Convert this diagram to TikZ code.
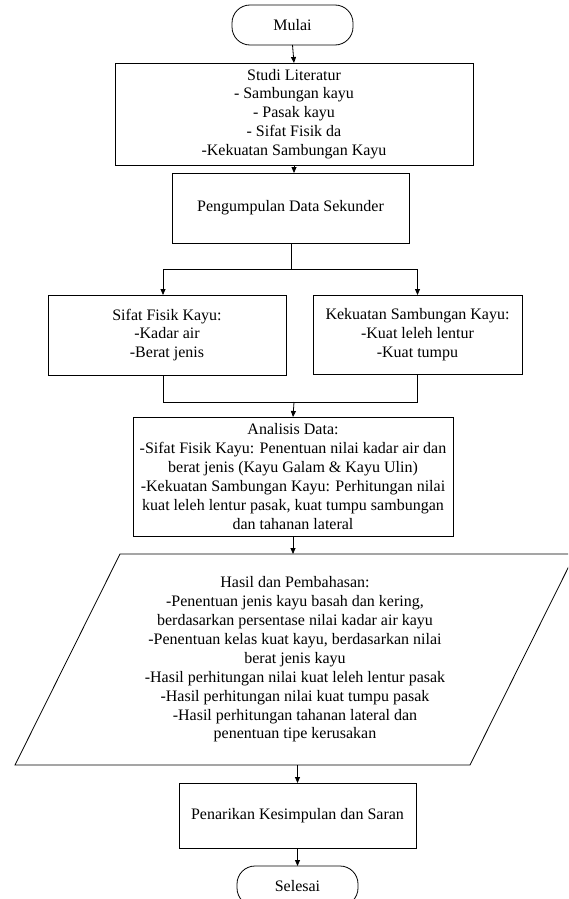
\documentclass[tikz,border=0pt]{standalone}
\usepackage{fontspec}
\setmainfont{Liberation Serif}
\usetikzlibrary{arrows.meta}
\begin{document}
\begin{tikzpicture}[x=1pt,y=-1pt,
  every node/.style={font=\fontsize{16}{18.9}\selectfont, align=center, inner sep=0pt, outer sep=0pt},
  procbox/.style={draw, line width=0.8pt, rectangle},
  termbox/.style={draw, line width=0.8pt, rectangle, rounded corners=18pt, minimum width=121pt, minimum height=40pt},
  conn/.style={line width=0.8pt},
  arr/.style={line width=0.8pt, -{Triangle[length=6pt,width=5pt]}}]
\useasboundingbox (0,0) rectangle (568,899);
\clip (0,0) rectangle (568,899);

\node[termbox] (mulai) at (292.5,25) {Mulai};
\node[procbox, minimum width=358pt, minimum height=102pt] (studi) at (294,114)
  {Studi Literatur\\- Sambungan kayu\\- Pasak kayu\\- Sifat Fisik da\\-Kekuatan Sambungan Kayu};
\node[procbox, minimum width=237pt, minimum height=70pt] (peng) at (290.5,208) {Pengumpulan Data Sekunder};
\node[procbox, minimum width=238pt, minimum height=80pt] (sifat) at (167,335)
  {Sifat Fisik Kayu:\\-Kadar air\\-Berat jenis};
\node[procbox, minimum width=209pt, minimum height=79pt] (kuat) at (417.5,334.5)
  {Kekuatan Sambungan Kayu:\\-Kuat leleh lentur\\-Kuat tumpu};
\node[procbox, minimum width=320pt, minimum height=119pt] (anal) at (293,476.5)
  {Analisis Data:\\-Sifat Fisik Kayu: Penentuan nilai kadar air dan\\berat jenis (Kayu Galam \& Kayu Ulin)\\-Kekuatan Sambungan Kayu: Perhitungan nilai\\kuat leleh lentur pasak, kuat tumpu sambungan\\dan tahanan lateral};
\node (hasil) at (295,659.5)
  {Hasil dan Pembahasan:\\-Penentuan jenis kayu basah dan kering,\\berdasarkan persentase nilai kadar air kayu\\-Penentuan kelas kuat kayu, berdasarkan nilai\\berat jenis kayu\\-Hasil perhitungan nilai kuat leleh lentur pasak\\-Hasil perhitungan nilai kuat tumpu pasak\\-Hasil perhitungan tahanan lateral dan\\penentuan tipe kerusakan};
\coordinate (hTL) at (120,554);
\coordinate (hTR) at (575,554);
\coordinate (hBR) at (470,765);
\coordinate (hBL) at (15,765);
\draw[conn] (hTL) -- (hTR) -- (hBR) -- (hBL) -- cycle;
\node[procbox, minimum width=237pt, minimum height=65pt] (tarik) at (297.5,815.5) {Penarikan Kesimpulan dan Saran};
\node[termbox] (selesai) at (297.5,886) {Selesai};

% connectors
\draw[arr] (mulai.south) -- (studi.north);
\draw[arr] (studi.south) -- (studi.south |- peng.north);
\coordinate (sp) at (291,269);
\draw[conn] (peng.south -| sp) -- (sp);
\draw[arr] (sp) -| ([xshift=-4pt]sifat.north);
\draw[arr] (sp) -| (kuat.north);
\coordinate (jn) at (294,402);
\draw[conn] ([xshift=-4pt]sifat.south) |- (jn);
\draw[conn] (kuat.south) |- (jn);
\draw[arr] (jn) -- (anal.north);
\draw[arr] (anal.south) -- (anal.south |- hTL);
\draw[arr] (tarik.north |- hBL) -- (tarik.north);
\draw[arr] (tarik.south) -- (selesai.north);
\end{tikzpicture}
\end{document}
